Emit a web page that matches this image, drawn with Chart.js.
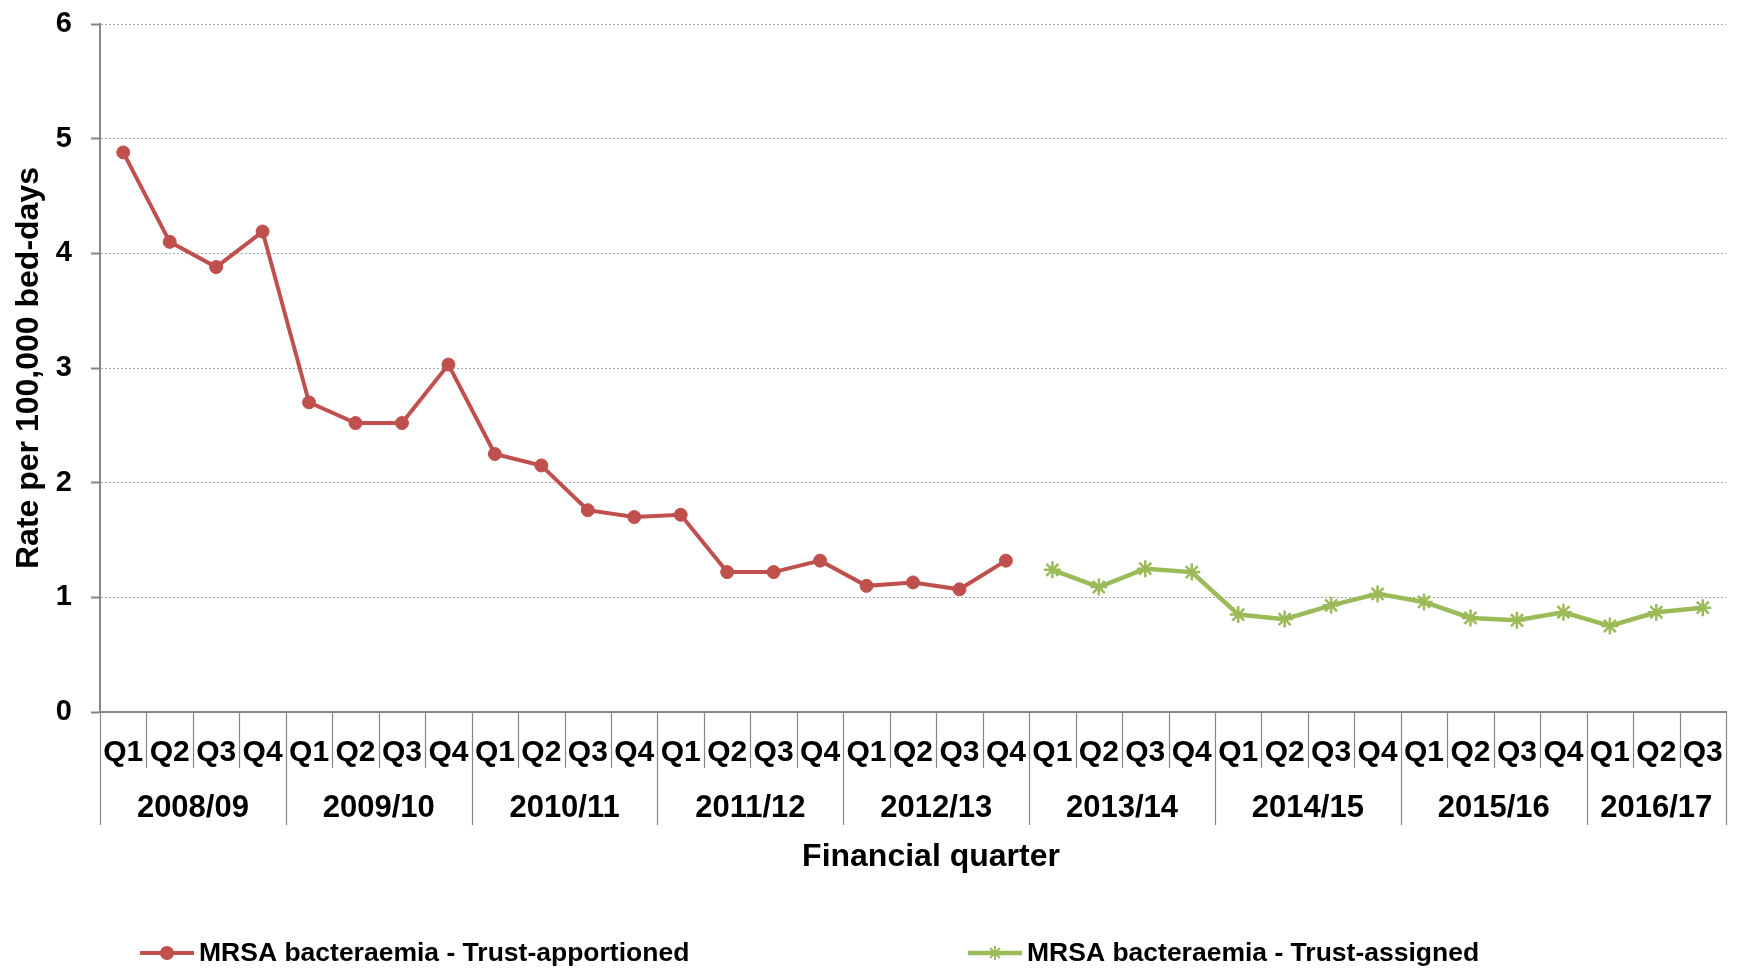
<!DOCTYPE html>
<html>
<head>
<meta charset="utf-8">
<title>MRSA bacteraemia rate per 100,000 bed-days</title>
<script src="https://cdn.jsdelivr.net/npm/chart.js@4.4.1/dist/chart.umd.min.js"></script>
<style>
  html, body { margin: 0; padding: 0; background: #fff; }
  canvas { display: block; }
</style>
</head>
<body>
<canvas id="chart" width="1737" height="968"></canvas>
<script>
// -------------------------------
// DATA
// -------------------------------
const years = ['2008/09', '2009/10', '2010/11', '2011/12', '2012/13', '2013/14', '2014/15', '2015/16', '2016/17'];
const quarters = [
    'Q1', 'Q2', 'Q3', 'Q4', 'Q1', 'Q2', 'Q3', 'Q4', 'Q1', 'Q2', 'Q3', 'Q4',
    'Q1', 'Q2', 'Q3', 'Q4', 'Q1', 'Q2', 'Q3', 'Q4', 'Q1', 'Q2', 'Q3', 'Q4',
    'Q1', 'Q2', 'Q3', 'Q4', 'Q1', 'Q2', 'Q3', 'Q4', 'Q1', 'Q2', 'Q3'
];
// 2008/09 Q1 to 2012/13 Q4
const trustApportioned = [4.88, 4.10, 3.88, 4.19, 2.70, 2.52, 2.52, 3.03, 2.25, 2.15,
                          1.76, 1.70, 1.72, 1.22, 1.22, 1.32, 1.10, 1.13, 1.07, 1.32];
// 2013/14 Q1 to 2016/17 Q3
const trustAssigned = [1.24, 1.09, 1.25, 1.22, 0.85, 0.81, 0.93, 1.03, 0.96, 0.82,
                       0.80, 0.87, 0.75, 0.87, 0.91];
const yTicks = [0, 1, 2, 3, 4, 5, 6];

const seriesNames = ['MRSA bacteraemia - Trust-apportioned', 'MRSA bacteraemia - Trust-assigned'];
const RED = '#C0504D';
const GREEN = '#9BBB59';
const AXIS_GREY = '#868686';
const FONT = 'Liberation Sans, Arial, sans-serif';

// pad each series with nulls so both sit on the same 35 quarters
const apportionedData = trustApportioned.concat(Array(quarters.length - trustApportioned.length).fill(null));
const assignedData = Array(quarters.length - trustAssigned.length).fill(null).concat(trustAssigned);

// -------------------------------
// YEAR GROUPS, AXIS TITLE, LEGEND
// -------------------------------
const groupAxisPlugin = {
    id: 'groupAxis',
    afterDraw(chart) {
        const ctx = chart.ctx;
        const x = chart.scales.x;
        const area = chart.chartArea;
        const half = (x.getPixelForValue(1) - x.getPixelForValue(0)) / 2;
        const edge = i => (i < quarters.length ? x.getPixelForValue(i) - half : x.getPixelForValue(quarters.length - 1) + half);

        ctx.save();
        // separators between quarters, longer ones between years
        ctx.strokeStyle = AXIS_GREY;
        ctx.lineWidth = 1.2;
        for (let i = 0; i <= quarters.length; i++) {
            const px = Math.round(edge(i)) + 0.5;
            const isYear = i % 4 === 0 || i === quarters.length;
            ctx.beginPath();
            ctx.moveTo(px, area.bottom);
            ctx.lineTo(px, area.bottom + (isYear ? 113 : 56));
            ctx.stroke();
        }

        // year labels
        ctx.fillStyle = '#000';
        ctx.textAlign = 'center';
        ctx.textBaseline = 'middle';
        ctx.font = 'bold 31px ' + FONT;
        years.forEach((yr, k) => {
            const a = edge(k * 4);
            const b = edge(Math.min(k * 4 + 4, quarters.length));
            ctx.fillText(yr, (a + b) / 2, area.bottom + 96);
        });

        // axis title
        ctx.font = 'bold 32px ' + FONT;
        ctx.fillText('Financial quarter', (area.left + area.right) / 2 + 18, area.bottom + 145);

        // legend
        const items = [
            { name: seriesNames[0], color: RED, style: 'circle', radius: 6, width: 4, left: 140 },
            { name: seriesNames[1], color: GREEN, style: 'star', radius: 7, width: 4.5, left: 968 }
        ];
        const ly = 953;
        ctx.font = 'bold 26.5px ' + FONT;
        ctx.textAlign = 'left';
        items.forEach(it => {
            ctx.strokeStyle = it.color;
            ctx.lineWidth = it.width;
            ctx.beginPath();
            ctx.moveTo(it.left, ly);
            ctx.lineTo(it.left + 54, ly);
            ctx.stroke();
            ctx.fillStyle = it.color;
            ctx.lineWidth = 2;
            Chart.helpers.drawPoint(ctx, {
                pointStyle: it.style, radius: it.radius, borderWidth: 2, rotation: 0
            }, it.left + 27, ly);
            ctx.fillStyle = '#000';
            ctx.fillText(it.name, it.left + 59, ly + 1);
        });
        ctx.restore();
    }
};

// -------------------------------
// CHART
// -------------------------------
const ctx = document.getElementById('chart').getContext('2d');

new Chart(ctx, {
    type: 'line',
    data: {
        labels: quarters,
        datasets: [
            {
                label: seriesNames[0],
                data: apportionedData,
                borderColor: RED,
                backgroundColor: RED,
                borderWidth: 4,
                pointStyle: 'circle',
                pointRadius: 6.5,
                pointBorderWidth: 1,
                tension: 0,
                spanGaps: false
            },
            {
                label: seriesNames[1],
                data: assignedData,
                borderColor: GREEN,
                backgroundColor: GREEN,
                borderWidth: 4.5,
                pointStyle: 'star',
                pointRadius: 8.5,
                pointBorderWidth: 2.5,
                tension: 0,
                spanGaps: false
            }
        ]
    },
    options: {
        responsive: false,
        animation: false,
        layout: { padding: { top: 24, right: 3, bottom: 0, left: 0 } },
        plugins: {
            legend: { display: false },
            tooltip: { enabled: false }
        },
        scales: {
            x: {
                type: 'category',
                offset: true,
                grid: { display: false, drawTicks: false },
                border: { display: true, color: AXIS_GREY, width: 2 },
                ticks: {
                    color: '#000',
                    padding: 23,
                    autoSkip: false,
                    maxRotation: 0,
                    font: { family: FONT, size: 30, weight: 'bold' }
                },
                afterFit(scale) {
                    scale.height = 256;
                    scale.paddingLeft = 0;
                    scale.paddingRight = 0;
                }
            },
            y: {
                min: 0,
                max: 6,
                afterBuildTicks(scale) {
                    scale.ticks = yTicks.map(v => ({ value: v }));
                },
                grid: {
                    color: c => (c.tick && c.tick.value === 0 ? 'rgba(0,0,0,0)' : '#a8a8a8'),
                    lineWidth: 1,
                    tickLength: 9,
                    tickColor: AXIS_GREY,
                    tickWidth: 2,
                    tickBorderDash: []
                },
                border: { display: true, color: AXIS_GREY, width: 2, dash: [2, 2] },
                ticks: {
                    color: '#000',
                    padding: 19,
                    font: { family: FONT, size: 29, weight: 'bold' }
                },
                title: {
                    display: true,
                    text: 'Rate per 100,000 bed-days',
                    color: '#000',
                    padding: { top: 10, bottom: 0 },
                    font: { family: FONT, size: 32, weight: 'bold' }
                },
                afterFit(scale) {
                    scale.width = 100;
                    scale.paddingTop = 0;
                    scale.paddingBottom = 0;
                }
            }
        }
    },
    plugins: [groupAxisPlugin]
});
</script>
</body>
</html>
